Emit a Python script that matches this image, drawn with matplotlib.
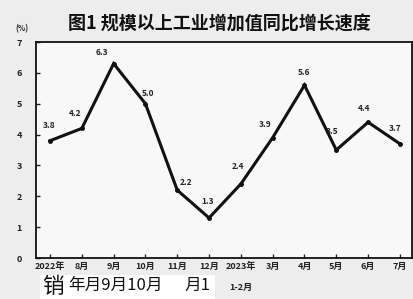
import matplotlib
matplotlib.use("Agg")
import matplotlib.pyplot as plt
from matplotlib.patches import Rectangle

plt.rcParams['font.family'] = ['Noto Sans CJK SC', 'DejaVu Sans']

# Data
labels_line1 = ["2022年", "8月", "9月", "10月", "11月", "12月", "2023年", "3月", "4月", "5月", "6月", "7月"]
labels_line2 = ["", "", "", "", "", "", "1-2月", "", "", "", "", ""]
values = [3.8, 4.2, 6.3, 5.0, 2.2, 1.3, 2.4, 3.9, 5.6, 3.5, 4.4, 3.7]
value_text = ["3.8", "4.2", "6.3", "5.0", "2.2", "1.3", "2.4", "3.9", "5.6", "3.5", "4.4", "3.7"]
yticks = [0, 1, 2, 3, 4, 5, 6, 7]
title = "图1 规模以上工业增加值同比增长速度"
unit = "(%)"
artifact_big = "销"
artifact_rest = "年月9月10月"
artifact_tail = "月1"

# label offsets in pixels (style)
offsets = [(-1, 15), (-7, 15), (-12, 11), (3, 10), (9, 8), (-1, 16),
           (-3, 17), (-8, 13), (0, 13), (-4, 18), (-4, 14), (-5, 15)]

W, H = 414, 299
fig = plt.figure(figsize=(W / 100, H / 100), dpi=100)
fig.patch.set_facecolor('#ededed')

ax = fig.add_axes([36 / W, 41 / H, 376 / W, 216 / H])
ax.set_facecolor('#f8f8f8')
x = list(range(len(values)))
ax.plot(x, values, color='#111111', lw=2.2, marker='o', ms=2.5, solid_joinstyle='miter')

for xi, v, t, (dx, dy) in zip(x, values, value_text, offsets):
    ax.annotate(t, (xi, v), xytext=(dx, dy), textcoords='offset pixels',
                ha='center', va='center', fontsize=6, fontweight='bold', color='#222222')

ax.set_xlim(-0.44, 11.38)
ax.set_ylim(0, 7)
ax.set_yticks(yticks)
ax.set_yticklabels([str(v) for v in yticks], fontsize=6.5, fontweight='bold', color='#222222')
ax.set_xticks(x)
ax.set_xticklabels(labels_line1, fontsize=6.5, fontweight='bold', color='#222222')
ax.tick_params(axis='both', direction='in', length=3, width=1, color='#222222')
ax.tick_params(axis='y', pad=10)
ax.tick_params(axis='x', pad=3)
for s in ax.spines.values():
    s.set_linewidth(1.3)
    s.set_color('#111111')

for xi, t in zip(x, labels_line2):
    if t:
        ax.annotate(t, (xi, 0), xytext=(0, -29), textcoords='offset pixels',
                    ha='center', va='center', fontsize=6.5, fontweight='bold', color='#222222',
                    annotation_clip=False)

fig.text(22 / W, 1 - 29 / H, unit, fontsize=5.5, fontweight='bold', ha='center', va='center', color='#222222')
fig.text(219 / W, 1 - 24 / H, title, fontsize=13, fontweight='bold', ha='center', va='center', color='#111111')

# scan artifact overlay at the bottom
fig.add_artist(Rectangle((40 / W, 0), 175 / W, 24 / H, transform=fig.transFigure,
                         facecolor='white', edgecolor='none', zorder=5))
fig.text(42 / W, 1 / H, artifact_big, fontsize=15.5, ha='left', va='bottom', color='#111111', zorder=6)
fig.text(68 / W, 5 / H, artifact_rest, fontsize=12, ha='left', va='bottom', color='#111111', zorder=6)
fig.text(184 / W, 5 / H, artifact_tail, fontsize=12, ha='left', va='bottom', color='#111111', zorder=6)

fig.savefig("out.png", dpi=100, facecolor=fig.get_facecolor())
